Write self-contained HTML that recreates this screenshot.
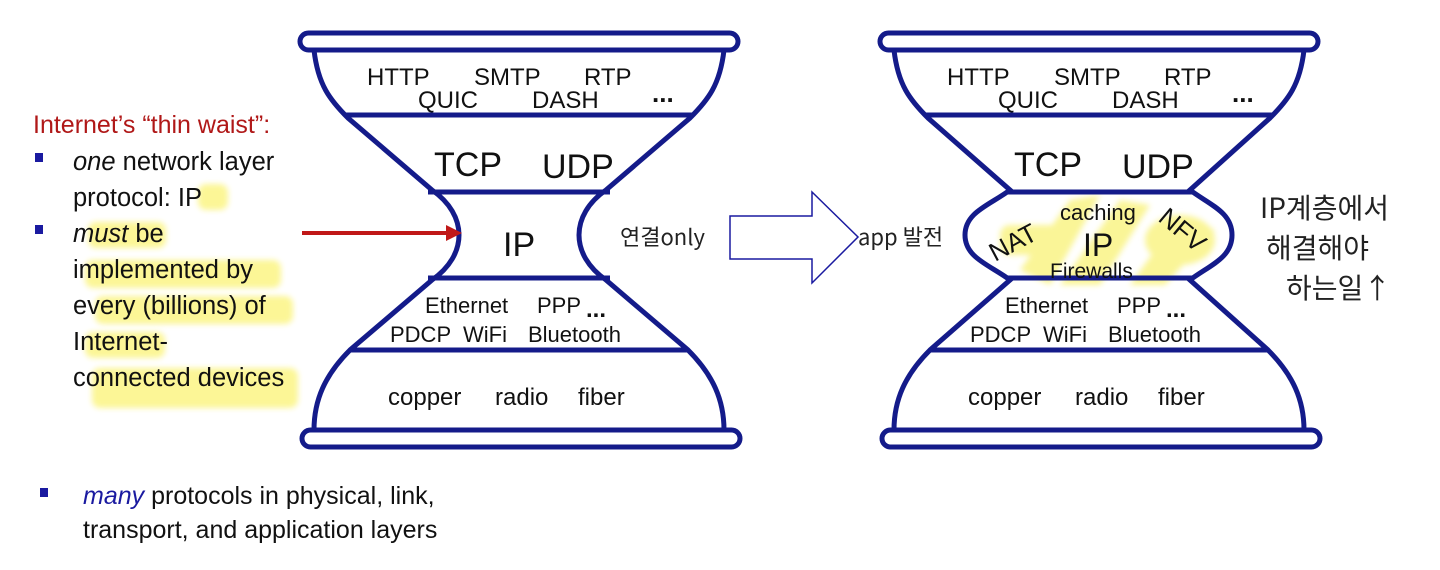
<!DOCTYPE html>
<html><head><meta charset="utf-8"><style>
html,body{margin:0;padding:0;background:#fff;width:1440px;height:570px;overflow:hidden}
svg{display:block}
text{font-family:"Liberation Sans","Noto Sans CJK KR",sans-serif;fill:#111}
.hw{font-family:"Noto Sans CJK KR","NanumGothic",sans-serif;fill:#222}
</style></head><body>
<svg width="1440" height="570" viewBox="0 0 1440 570" xmlns="http://www.w3.org/2000/svg">
<defs><filter id="bl"><feGaussianBlur stdDeviation="3"/></filter></defs>
<g fill="#fbf36a" opacity="0.7" filter="url(#bl)">
<rect x="198" y="184" width="30" height="26" rx="8"/>
<rect x="88" y="222" width="78" height="26" rx="8"/>
<rect x="85" y="260" width="196" height="28" rx="8"/>
<rect x="95" y="296" width="198" height="28" rx="8"/>
<rect x="85" y="332" width="80" height="26" rx="8"/>
<rect x="92" y="368" width="206" height="40" rx="8"/>
</g>
<g fill="#f8f060" opacity="0.65" filter="url(#bl)">
<path d="M1020,270 L1070,200 L1100,195 L1050,285 Z"/>
<path d="M1060,285 L1120,200 L1150,205 L1100,285 Z"/>
<path d="M1130,285 L1180,215 L1215,230 L1165,285 Z"/>
<ellipse cx="1180" cy="240" rx="35" ry="25"/>
<rect x="1000" y="225" width="60" height="30" rx="10"/>
</g>
<text x="33" y="133" font-size="25" style="fill:#b01818">Internet’s “thin waist”:</text>
<g font-size="25.5">
<rect x="35" y="153" width="8" height="9" fill="#1a1aa0"/>
<text x="73" y="170"><tspan font-style="italic">one</tspan> network layer</text>
<text x="73" y="206">protocol: IP</text>
<rect x="35" y="225" width="8" height="9" fill="#1a1aa0"/>
<text x="73" y="242"><tspan font-style="italic">must</tspan> be</text>
<text x="73" y="278">implemented by</text>
<text x="73" y="314">every (billions) of</text>
<text x="73" y="350">Internet-</text>
<text x="73" y="386">connected devices</text>
</g>
<g font-size="25">
<rect x="40" y="488" width="8" height="9" fill="#1a1aa0"/>
<text x="83" y="504"><tspan font-style="italic" style="fill:#1a1aa0">many</tspan> protocols in physical, link,</text>
<text x="83" y="538">transport, and application layers</text>
</g>
<g fill="none" stroke="#141b8a" stroke-width="5">
<rect x="300" y="33" width="438" height="17" rx="8.5"/>
<rect x="302" y="430" width="438" height="17" rx="8.5"/>
<path d="M314,50 C318,85 330,100 348,118 L432,190 C468,215 468,255 432,280 L350,350 C325,375 314,400 314,430"/>
<path d="M724,50 C720,85 708,100 690,118 L606,190 C570,215 570,255 606,280 L688,350 C713,375 724,400 724,430"/>
<line x1="346" y1="115" x2="692" y2="115"/>
<line x1="428" y1="192" x2="610" y2="192"/>
<line x1="428" y1="278" x2="610" y2="278"/>
<line x1="350" y1="350" x2="688" y2="350"/>
</g>
<g font-size="24">
<text x="367" y="85">HTTP</text><text x="474" y="85">SMTP</text><text x="584" y="85">RTP</text>
<text x="418" y="108">QUIC</text><text x="532" y="108">DASH</text><text x="652" y="102" font-weight="bold" font-size="26">...</text>
<text x="434" y="176" font-size="34">TCP</text><text x="542" y="178" font-size="34">UDP</text>
<text x="503" y="256" font-size="34">IP</text>
<text x="425" y="313" font-size="22">Ethernet</text><text x="537" y="313" font-size="22">PPP</text><text x="586" y="317" font-size="24" font-weight="bold">...</text>
<text x="390" y="342" font-size="22">PDCP</text><text x="463" y="342" font-size="22">WiFi</text><text x="528" y="342" font-size="22">Bluetooth</text>
<text x="388" y="405">copper</text><text x="495" y="405">radio</text><text x="578" y="405">fiber</text>
</g>
<line x1="302" y1="233" x2="448" y2="233" stroke="#c01818" stroke-width="4"/>
<polygon points="446,225 462,233 446,241" fill="#c01818"/>
<polygon points="730,216 812,216 812,192 858,237 812,283 812,259 730,259" fill="#fff" stroke="#1a1aa0" stroke-width="1.5"/>
<text class="hw" x="620" y="245" font-size="22">연결only</text>
<text class="hw" x="858" y="245" font-size="22">app 발전</text>
<text class="hw" x="1260" y="218" font-size="28">IP계층에서</text>
<text class="hw" x="1266" y="258" font-size="28">해결해야</text>
<text class="hw" x="1286" y="298" font-size="28">하는일↑</text>
<g fill="none" stroke="#141b8a" stroke-width="5">
<rect x="880" y="33" width="438" height="17" rx="8.5"/>
<rect x="882" y="430" width="438" height="17" rx="8.5"/>
<path d="M894,50 C898,85 910,100 928,118 L1010,190 C990,205 965,212 965,235 C965,258 990,265 1010,280 L930,350 C905,375 894,400 894,430"/>
<path d="M1304,50 C1300,85 1288,100 1270,118 L1190,190 C1210,205 1232,212 1232,235 C1232,258 1210,265 1190,280 L1268,350 C1293,375 1304,400 1304,430"/>
<line x1="926" y1="115" x2="1272" y2="115"/>
<line x1="1008" y1="192" x2="1192" y2="192"/>
<line x1="1008" y1="278" x2="1192" y2="278"/>
<line x1="930" y1="350" x2="1268" y2="350"/>
</g>
<g font-size="24">
<text x="947" y="85">HTTP</text><text x="1054" y="85">SMTP</text><text x="1164" y="85">RTP</text>
<text x="998" y="108">QUIC</text><text x="1112" y="108">DASH</text><text x="1232" y="102" font-weight="bold" font-size="26">...</text>
<text x="1014" y="176" font-size="34">TCP</text><text x="1122" y="178" font-size="34">UDP</text>
<text x="1060" y="220" font-size="22">caching</text>
<text x="1083" y="256" font-size="32">IP</text>
<text x="1050" y="278" font-size="21">Firewalls</text>
<text x="0" y="0" font-size="26" transform="translate(995,262) rotate(-28)">NAT</text>
<text x="0" y="0" font-size="26" transform="translate(1157,220) rotate(40)">NFV</text>
<text x="1005" y="313" font-size="22">Ethernet</text><text x="1117" y="313" font-size="22">PPP</text><text x="1166" y="317" font-size="24" font-weight="bold">...</text>
<text x="970" y="342" font-size="22">PDCP</text><text x="1043" y="342" font-size="22">WiFi</text><text x="1108" y="342" font-size="22">Bluetooth</text>
<text x="968" y="405">copper</text><text x="1075" y="405">radio</text><text x="1158" y="405">fiber</text>
</g>
</svg>
</body></html>
